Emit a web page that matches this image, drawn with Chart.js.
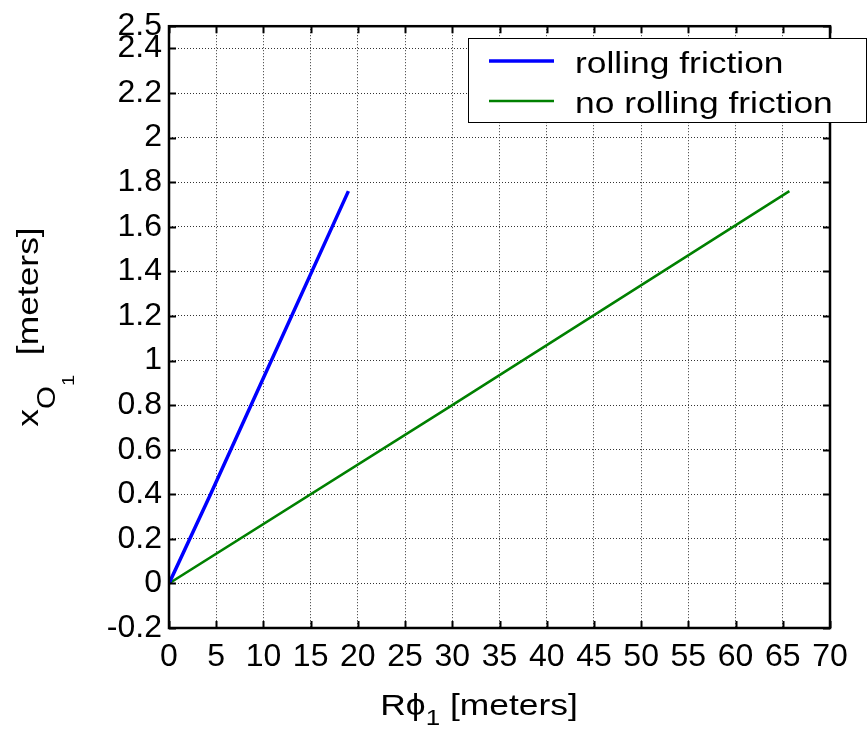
<!DOCTYPE html>
<html>
<head>
<meta charset="utf-8">
<script src="https://cdn.jsdelivr.net/npm/chart.js@4"></script>
<style>
  html, body { margin: 0; padding: 0; background: #fff; }
  #plot { display: block; }
</style>
</head>
<body>
<canvas id="plot" width="868" height="731"></canvas>
<script>
/* data */
const rollingX = [0, 4.4, 8.9, 19.0];
const rollingY = [0, 0.40, 0.82, 1.76];
const noRollingX = [0, 30, 65.7];
const noRollingY = [0, 0.80, 1.76];

const xTicks = [0, 5, 10, 15, 20, 25, 30, 35, 40, 45, 50, 55, 60, 65, 70];
const yTicks = [-0.2, 0, 0.2, 0.4, 0.6, 0.8, 1, 1.2, 1.4, 1.6, 1.8, 2, 2.2, 2.4, 2.5];

const seriesLabels = ['rolling friction', 'no rolling friction'];
const seriesColors = ['#0000ff', '#008000'];
const seriesWidths = [3.5, 2.5];

const FONT = 'Arial, "Liberation Sans", Helvetica, sans-serif';
const STRETCH = 1.18; // the original text is a bit wider than Arial

function toPoints(xs, ys) {
    return xs.map((x, i) => ({ x, y: ys[i] }));
}

// draw a run of text pieces (for subscripts), optionally rotated
function drawRich(ctx, pieces, cx, baseY, rotate) {
    ctx.save();
    ctx.translate(cx, baseY);
    if (rotate) ctx.rotate(-Math.PI / 2);
    ctx.scale(STRETCH, 1);
    ctx.fillStyle = '#000';
    ctx.textBaseline = 'alphabetic';
    ctx.textAlign = 'left';
    let total = 0;
    pieces.forEach(p => {
        ctx.font = p.size + 'px ' + FONT;
        total += ctx.measureText(p.t).width;
    });
    let x = -total / 2;
    pieces.forEach(p => {
        ctx.font = p.size + 'px ' + FONT;
        ctx.fillText(p.t, x, p.dy || 0);
        x += ctx.measureText(p.t).width;
    });
    ctx.restore();
}

/* frame, inward tick marks, axis titles, legend */
const matlabAxes = {
    id: 'matlabAxes',
    afterDatasetsDraw(chart) {
        const { ctx, chartArea: a, scales } = chart;
        ctx.save();

        // inward ticks on all four sides
        ctx.strokeStyle = '#000';
        ctx.lineWidth = 2;
        const tl = 7;
        ctx.beginPath();
        xTicks.forEach(v => {
            const px = Math.round(scales.x.getPixelForValue(v)) + 0.5;
            ctx.moveTo(px, a.bottom); ctx.lineTo(px, a.bottom - tl);
            ctx.moveTo(px, a.top); ctx.lineTo(px, a.top + tl);
        });
        yTicks.forEach(v => {
            const py = Math.round(scales.y.getPixelForValue(v)) + 0.5;
            ctx.moveTo(a.left, py); ctx.lineTo(a.left + tl, py);
            ctx.moveTo(a.right, py); ctx.lineTo(a.right - tl, py);
        });
        ctx.stroke();

        // box
        ctx.lineWidth = 2.5;
        ctx.strokeRect(a.left, a.top, a.right - a.left, a.bottom - a.top);

        // legend
        const lx = 468, ly = 38, lw = 399, lh = 85;
        ctx.fillStyle = '#fff';
        ctx.fillRect(lx, ly, lw, lh);
        ctx.lineWidth = 1;
        ctx.strokeStyle = '#000';
        ctx.strokeRect(lx + 0.5, ly + 0.5, lw - 1, lh - 1);
        const rows = [61, 101];
        seriesLabels.forEach((label, i) => {
            ctx.strokeStyle = seriesColors[i];
            ctx.lineWidth = seriesWidths[i];
            ctx.beginPath();
            ctx.moveTo(489, rows[i]);
            ctx.lineTo(554, rows[i]);
            ctx.stroke();
            ctx.save();
            ctx.translate(575, rows[i] + 12);
            ctx.scale(STRETCH, 1);
            ctx.fillStyle = '#000';
            ctx.font = '30px ' + FONT;
            ctx.textAlign = 'left';
            ctx.textBaseline = 'alphabetic';
            ctx.fillText(label, 0, 0);
            ctx.restore();
        });
        ctx.restore();

        // axis titles
        drawRich(ctx, [
            { t: 'R', size: 30 },
            { t: '\u03D5', size: 30 },
            { t: '1', size: 22, dy: 10 },
            { t: ' [meters]', size: 30 }
        ], 479, 715, false);
        drawRich(ctx, [
            { t: 'x', size: 30 },
            { t: 'O', size: 25, dy: 17 },
            { t: '1', size: 17, dy: 36 },
            { t: '  [meters]', size: 30 }
        ], 38, 327, true);
    }
};

const tickFont = { family: FONT, size: 32 };

new Chart(document.getElementById('plot'), {
    type: 'scatter',
    data: {
        datasets: [
            {
                label: seriesLabels[0],
                data: toPoints(rollingX, rollingY),
                showLine: true,
                borderColor: seriesColors[0],
                borderWidth: seriesWidths[0],
                pointRadius: 0,
                tension: 0
            },
            {
                label: seriesLabels[1],
                data: toPoints(noRollingX, noRollingY),
                showLine: true,
                borderColor: seriesColors[1],
                borderWidth: seriesWidths[1],
                pointRadius: 0,
                tension: 0
            }
        ]
    },
    options: {
        responsive: false,
        devicePixelRatio: 1,
        animation: false,
        layout: { padding: { top: 25, right: 38, left: 0, bottom: 0 } },
        plugins: {
            legend: { display: false },
            tooltip: { enabled: false }
        },
        scales: {
            x: {
                type: 'linear',
                min: 0,
                max: 70,
                afterBuildTicks: s => { s.ticks = xTicks.map(v => ({ value: v })); },
                afterFit: s => { s.height = 103; },
                ticks: {
                    font: tickFont,
                    color: '#000',
                    padding: 10,
                    autoSkip: false,
                    maxRotation: 0,
                    minRotation: 0,
                    callback: v => String(v)
                },
                grid: { color: '#333', lineWidth: 1, drawTicks: false },
                border: { display: false, dash: [1, 2] }
            },
            y: {
                type: 'linear',
                min: -0.2,
                max: 2.5,
                afterBuildTicks: s => { s.ticks = yTicks.map(v => ({ value: v })); },
                afterFit: s => { s.width = 169; },
                ticks: {
                    font: tickFont,
                    color: '#000',
                    padding: 7,
                    autoSkip: false,
                    callback: v => String(Math.round(v * 10) / 10)
                },
                grid: { color: '#333', lineWidth: 1, drawTicks: false },
                border: { display: false, dash: [1, 2] }
            }
        }
    },
    plugins: [matlabAxes]
});
</script>
</body>
</html>
